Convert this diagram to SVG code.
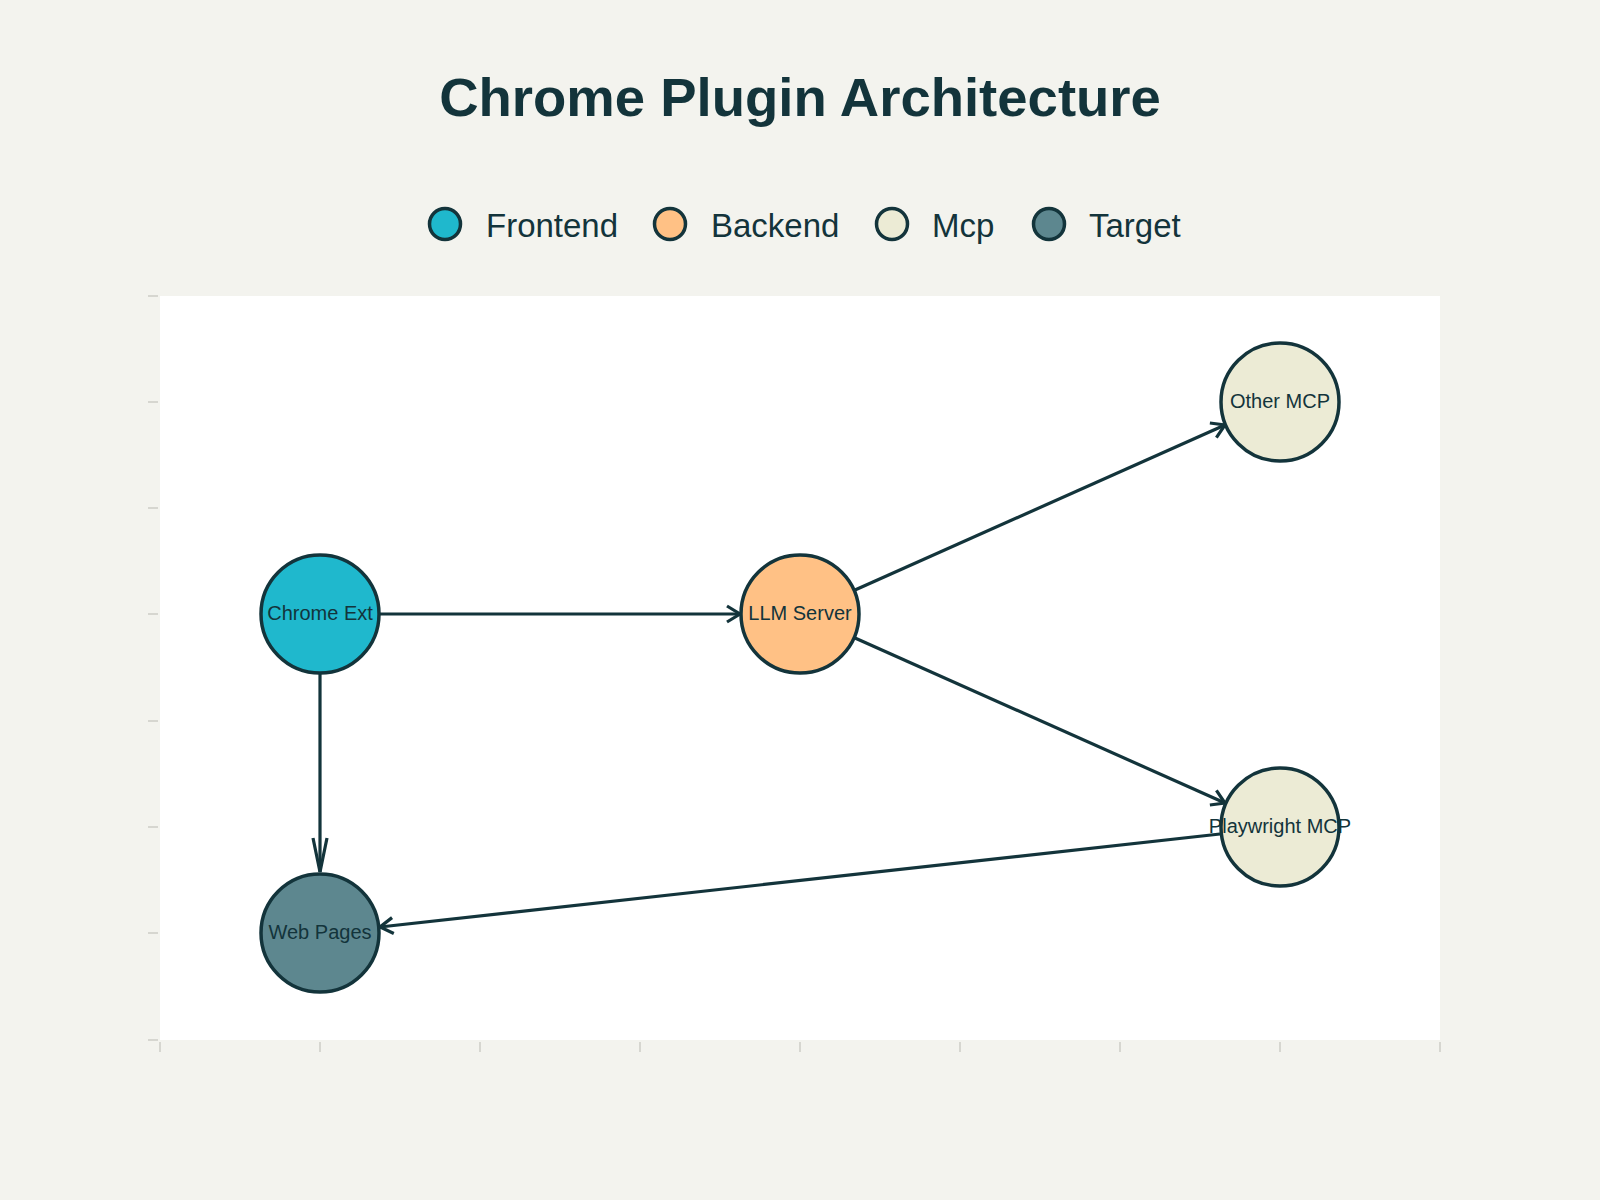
<svg xmlns="http://www.w3.org/2000/svg" width="1600" height="1200" viewBox="0 0 1600 1200">
<style>
.title{font-family:"Liberation Sans",Arial,sans-serif;font-weight:bold;font-size:54.5px;fill:#13343B}
.leg{font-family:"Liberation Sans",Arial,sans-serif;font-size:33px;fill:#13343B}
.lab{font-family:"Liberation Sans",Arial,sans-serif;font-size:20px;fill:#13343B;text-anchor:middle}
.node{stroke:#13343B;stroke-width:3.5}
.edge{stroke:#13343B;stroke-width:3.2;fill:none}
.tick{stroke:#D6D6D0;stroke-width:2}
.fe{fill:#1FB8CD}.be{fill:#FFC185}.mcp{fill:#ECEBD5}.tg{fill:#5D878F}
</style>
<defs>
<marker id="ah" markerUnits="userSpaceOnUse" viewBox="-16 -12 20 24" markerWidth="20" markerHeight="24" refX="0" refY="0" orient="auto">
<path d="M-13,-8 L0,0 L-13,8" fill="none" stroke="#13343B" stroke-width="3.2"/>
</marker>
<marker id="ahl" markerUnits="userSpaceOnUse" viewBox="-38 -12 42 24" markerWidth="42" markerHeight="24" refX="0" refY="0" orient="auto">
<path d="M-34,-7 L0,0 L-34,7" fill="none" stroke="#13343B" stroke-width="3.2"/>
</marker>
</defs>
<rect x="0" y="0" width="1600" height="1200" fill="#F3F3EE"/>
<rect x="160" y="296" width="1280" height="744" fill="#FFFFFF"/>
<g id="axes">
<line class="tick" x1="148" y1="296" x2="158" y2="296"/>
<line class="tick" x1="148" y1="402" x2="158" y2="402"/>
<line class="tick" x1="148" y1="508" x2="158" y2="508"/>
<line class="tick" x1="148" y1="614" x2="158" y2="614"/>
<line class="tick" x1="148" y1="721" x2="158" y2="721"/>
<line class="tick" x1="148" y1="827" x2="158" y2="827"/>
<line class="tick" x1="148" y1="933" x2="158" y2="933"/>
<line class="tick" x1="148" y1="1040" x2="158" y2="1040"/>
<line class="tick" x1="160" y1="1042" x2="160" y2="1052"/>
<line class="tick" x1="320" y1="1042" x2="320" y2="1052"/>
<line class="tick" x1="480" y1="1042" x2="480" y2="1052"/>
<line class="tick" x1="640" y1="1042" x2="640" y2="1052"/>
<line class="tick" x1="800" y1="1042" x2="800" y2="1052"/>
<line class="tick" x1="960" y1="1042" x2="960" y2="1052"/>
<line class="tick" x1="1120" y1="1042" x2="1120" y2="1052"/>
<line class="tick" x1="1280" y1="1042" x2="1280" y2="1052"/>
<line class="tick" x1="1440" y1="1042" x2="1440" y2="1052"/>
</g>
<text class="title" x="800" y="116" text-anchor="middle">Chrome Plugin Architecture</text>
<g id="legend">
<circle class="node fe" cx="445" cy="224" r="15.5"/>
<text class="leg" x="486" y="237">Frontend</text>
<circle class="node be" cx="670" cy="224" r="15.5"/>
<text class="leg" x="711" y="237">Backend</text>
<circle class="node mcp" cx="892" cy="224" r="15.5"/>
<text class="leg" x="932" y="237">Mcp</text>
<circle class="node tg" cx="1049" cy="224" r="15.5"/>
<text class="leg" x="1089" y="237">Target</text>
</g>
<g id="connectors">
<line class="edge" x1="380" y1="614" x2="740" y2="614" marker-end="url(#ah)"/>
<line class="edge" x1="320" y1="674" x2="320" y2="872" marker-end="url(#ahl)"/>
<line class="edge" x1="855" y1="590" x2="1225" y2="425" marker-end="url(#ah)"/>
<line class="edge" x1="855" y1="638" x2="1225" y2="803" marker-end="url(#ah)"/>
<line class="edge" x1="1220" y1="834" x2="380" y2="927" marker-end="url(#ah)"/>
</g>
<g id="node-chrome-ext">
<circle class="node fe" cx="320" cy="614" r="59"/>
<text class="lab" x="320" y="620">Chrome Ext</text>
</g>
<g id="node-llm-server">
<circle class="node be" cx="800" cy="614" r="59"/>
<text class="lab" x="800" y="620">LLM Server</text>
</g>
<g id="node-other-mcp">
<circle class="node mcp" cx="1280" cy="402" r="59"/>
<text class="lab" x="1280" y="408">Other MCP</text>
</g>
<g id="node-playwright-mcp">
<circle class="node mcp" cx="1280" cy="827" r="59"/>
<text class="lab" x="1280" y="833">Playwright MCP</text>
</g>
<g id="node-web-pages">
<circle class="node tg" cx="320" cy="933" r="59"/>
<text class="lab" x="320" y="939">Web Pages</text>
</g>
</svg>
